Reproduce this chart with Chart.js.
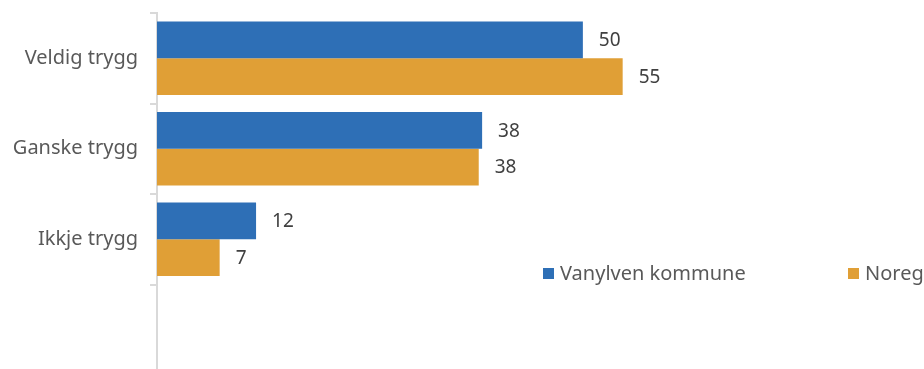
<!DOCTYPE html>
<html>
<head>
<meta charset="utf-8">
<script src="https://cdn.jsdelivr.net/npm/chart.js@4.4.1/dist/chart.umd.min.js"></script>
<style>
  html, body { margin: 0; padding: 0; background: #fff; overflow: hidden; }
  #wrap { position: relative; width: 924px; height: 392px; }
</style>
</head>
<body>
<div id="wrap"><canvas id="chart"></canvas></div>
<script>
// Kategoriar og verdiar (prosent)
const categories = ['Veldig trygg', 'Ganske trygg', 'Ikkje trygg', ''];
const vanylven = [50.3, 38.4, 11.7, null];
const noreg = [55, 38.0, 7.4, null];
const seriesNames = ['Vanylven kommune', 'Noreg'];
const seriesColors = ['#2e6fb6', '#e09f36'];

// Talverdi til høgre for kvar stolpe
const valueLabels = {
  id: 'valueLabels',
  afterDatasetsDraw(chart) {
    const ctx = chart.ctx;
    ctx.save();
    ctx.font = '19px "Noto Sans"';
    ctx.fillStyle = '#404040';
    ctx.textBaseline = 'middle';
    chart.data.datasets.forEach((ds, i) => {
      chart.getDatasetMeta(i).data.forEach((bar, j) => {
        if (ds.data[j] == null) return;
        ctx.fillText(Math.round(ds.data[j]), bar.x + 16, bar.y + 1);
      });
    });
    ctx.restore();
  }
};

// Forklaring inne i diagrammet, nede til høgre
const insideLegend = {
  id: 'insideLegend',
  afterDraw(chart) {
    const ctx = chart.ctx;
    const xs = [543, 848];
    const y = 273;
    ctx.save();
    ctx.font = '20px "Noto Sans"';
    ctx.textBaseline = 'middle';
    chart.data.datasets.forEach((ds, i) => {
      ctx.fillStyle = ds.backgroundColor;
      ctx.fillRect(xs[i], y - 5, 11, 11);
      ctx.fillStyle = '#595959';
      ctx.fillText(ds.label, xs[i] + 17, y + 1);
    });
    ctx.restore();
  }
};

new Chart(document.getElementById('chart'), {
  type: 'bar',
  data: {
    labels: categories,
    datasets: [
      { label: seriesNames[0], data: vanylven, backgroundColor: seriesColors[0] },
      { label: seriesNames[1], data: noreg, backgroundColor: seriesColors[1] }
    ]
  },
  options: {
    indexAxis: 'y',
    responsive: true,
    maintainAspectRatio: false,
    animation: false,
    layout: { padding: { top: 13, bottom: 17, left: 0, right: 5 } },
    datasets: { bar: { categoryPercentage: 0.81, barPercentage: 1.0 } },
    scales: {
      x: { display: false, min: 0, max: 90 },
      y: {
        afterFit(scale) {
          scale.width = 157;
          scale.paddingTop = 0;
          scale.paddingBottom = 0;
        },
        border: { display: true, color: '#d9d9d9', width: 2 },
        grid: { display: true, drawOnChartArea: false, tickLength: 7, color: '#d9d9d9', lineWidth: 2, offset: true },
        ticks: { color: '#595959', font: { family: 'Noto Sans', size: 20 }, padding: 12 }
      }
    },
    plugins: {
      legend: { display: false },
      tooltip: { enabled: false }
    }
  },
  plugins: [valueLabels, insideLegend]
});
</script>
</body>
</html>
